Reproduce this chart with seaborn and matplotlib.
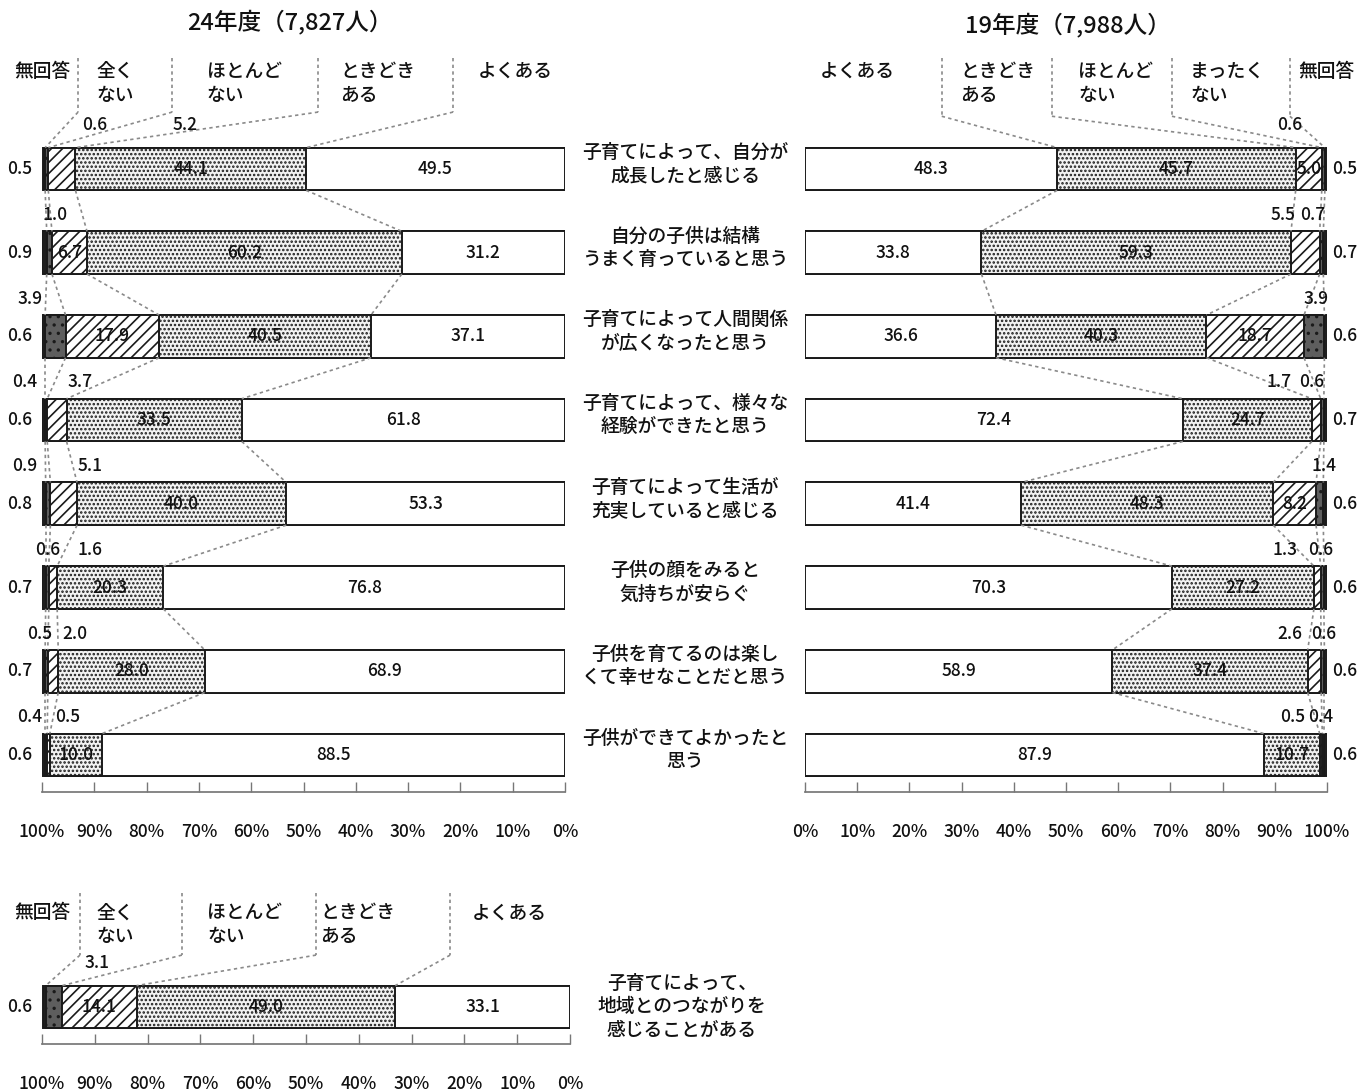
import numpy as np
import pandas as pd
import matplotlib
matplotlib.use("Agg")
import matplotlib.pyplot as plt
import matplotlib.transforms as mtrans
import seaborn as sns

# ---- data ----
items = [
    "子育てによって、自分が\n成長したと感じる",
    "自分の子供は結構\nうまく育っていると思う",
    "子育てによって人間関係\nが広くなったと思う",
    "子育てによって、様々な\n経験ができたと思う",
    "子育てによって生活が\n充実していると感じる",
    "子供の顔をみると\n気持ちが安らぐ",
    "子供を育てるのは楽し\nくて幸せなことだと思う",
    "子供ができてよかったと\n思う",
]
cats_24 = ["よくある", "ときどき\nある", "ほとんど\nない", "全く\nない", "無回答"]
cats_19 = ["よくある", "ときどき\nある", "ほとんど\nない", "まったく\nない", "無回答"]

often_24 = [49.5, 31.2, 37.1, 61.8, 53.3, 76.8, 68.9, 88.5]
sometimes_24 = [44.1, 60.2, 40.5, 33.5, 40.0, 20.3, 28.0, 10.0]
rarely_24 = [5.2, 6.7, 17.9, 3.7, 5.1, 1.6, 2.0, 0.5]
never_24 = [0.6, 1.0, 3.9, 0.4, 0.9, 0.6, 0.5, 0.4]
noans_24 = [0.5, 0.9, 0.6, 0.6, 0.8, 0.7, 0.7, 0.6]

often_19 = [48.3, 33.8, 36.6, 72.4, 41.4, 70.3, 58.9, 87.9]
sometimes_19 = [45.7, 59.3, 40.3, 24.7, 48.3, 27.2, 37.4, 10.7]
rarely_19 = [5.0, 5.5, 18.7, 1.7, 8.2, 1.3, 2.6, 0.5]
never_19 = [0.6, 0.7, 3.9, 0.6, 1.4, 0.6, 0.6, 0.4]
noans_19 = [0.5, 0.7, 0.6, 0.7, 0.6, 0.6, 0.6, 0.6]

item_local = ["子育てによって、\n地域とのつながりを\n感じることがある"]
often_local = [33.1]
sometimes_local = [49.0]
rarely_local = [14.1]
never_local = [3.1]
noans_local = [0.6]

# labels that sit above the bars: (row, category, x position in %)
above_24 = [(0, 3, 89.9), (0, 2, 72.7), (1, 3, 97.5), (2, 3, 102.3),
            (3, 3, 103.3), (3, 2, 92.7), (4, 3, 103.3), (4, 2, 90.8),
            (5, 3, 98.9), (5, 2, 90.8), (6, 3, 100.4), (6, 2, 93.7),
            (7, 3, 102.3), (7, 2, 95.0)]
above_19 = [(0, 3, 92.9), (1, 2, 91.6), (1, 3, 97.3), (2, 3, 97.9),
            (3, 2, 90.8), (3, 3, 97.1), (4, 3, 99.4), (5, 2, 92.0),
            (5, 3, 98.7), (6, 2, 92.9), (6, 3, 99.4), (7, 2, 93.5),
            (7, 3, 98.7)]
above_local = [(0, 3, 89.6)]

# ---- style ----
sns.set_theme(style="white")
plt.rcParams["font.family"] = ["Noto Sans CJK JP", "DejaVu Sans"]
plt.rcParams["font.weight"] = "medium"
plt.rcParams["hatch.linewidth"] = 1.2
plt.rcParams["text.color"] = "#111111"

seg_style = [
    dict(color="white", hatch=""),
    dict(color="#f2f2f2", hatch="...."),
    dict(color="white", hatch="///"),
    dict(color="#5e5e5e", hatch=".."),
    dict(color="#1e1e1e", hatch=""),
]
BAR_W = 0.51
DOT = dict(color="#8a8a8a", lw=1.2, ls=(0, (2, 2)), clip_on=False)
FS = 12.5


def draw_panel(ax, shares, names, above, side_x):
    vals = np.array(shares)
    cum = np.cumsum(vals, axis=0)
    for k in reversed(range(5)):
        df = pd.DataFrame({"v": cum[k], "item": names})
        sns.barplot(data=df, x="v", y="item", orient="y", ax=ax,
                    color=seg_style[k]["color"], hatch=seg_style[k]["hatch"],
                    edgecolor="#1a1a1a", linewidth=1.4, width=BAR_W,
                    saturation=1, errorbar=None)
    n = len(names)
    # dotted connectors between neighbouring rows
    for k in range(4):
        for r in range(n - 1):
            ax.plot([cum[k][r], cum[k][r + 1]],
                    [r + BAR_W / 2, r + 1 - BAR_W / 2], **DOT)
    outside = {(r, c) for r, c, _ in above}
    for r in range(n):
        start = 0
        for c in range(4):
            v = vals[c][r]
            if (r, c) not in outside and c < 3:
                ax.text(start + v / 2, r, f"{v:.1f}", ha="center", va="center",
                        fontsize=FS)
            start += v
        ax.text(side_x, r, f"{vals[4][r]:.1f}", ha="center", va="center",
                fontsize=FS)
    for r, c, x in above:
        dy = 0.53 if r == 0 else 0.45
        ax.text(x, r - dy, f"{vals[c][r]:.1f}", ha="center", va="center",
                fontsize=FS)
    return cum


def header(ax, cats, label_x, label_ha, vline_x, bounds, y_text, y_top, y_bot):
    for lab, x, ha in zip(cats, label_x, label_ha):
        ax.text(x, y_text, lab, ha=ha, va="top", fontsize=13.5, linespacing=1.35)
    for vx, b in zip(vline_x, bounds):
        ax.plot([vx, vx], [y_top, y_bot], **DOT)
        ax.plot([vx, b], [y_bot, -BAR_W / 2], **DOT)


def style_axis(ax, flip, ylim):
    ax.set_xlim((100, 0) if flip else (0, 100))
    ax.set_ylim(*ylim)
    ax.set_xticks(range(0, 101, 10))
    ax.set_xticklabels([f"{t}%" for t in range(0, 101, 10)], fontsize=FS)
    ax.set_yticks([])
    ax.set_xlabel("")
    ax.set_ylabel("")
    for s in ["top", "left", "right"]:
        ax.spines[s].set_visible(False)
    ax.spines["bottom"].set_color("#777777")
    ax.tick_params(axis="x", direction="in", length=7, width=1, color="#777777",
                   pad=22, bottom=True, labelcolor="#111111")


fig = plt.figure(figsize=(13.7, 10.91), dpi=100)
ax_l = fig.add_axes([0.03066, 0.27406, 0.38175, 0.68928])
ax_r = fig.add_axes([0.58759, 0.27406, 0.38102, 0.68928])
ax_b = fig.add_axes([0.03066, 0.04308, 0.38540, 0.15032])

cum_l = draw_panel(ax_l, [often_24, sometimes_24, rarely_24, never_24, noans_24],
                   items, above_24, 104.2)
cum_r = draw_panel(ax_r, [often_19, sometimes_19, rarely_19, never_19, noans_19],
                   items, above_19, 103.4)
cum_b = draw_panel(ax_b, [often_local, sometimes_local, rarely_local, never_local,
                          noans_local], item_local, above_local, 104.2)

style_axis(ax_l, True, (7.443, -1.541))
style_axis(ax_r, False, (7.443, -1.541))
style_axis(ax_b, True, (0.442, -1.517))

header(ax_l, cats_24, [16.6, 43.0, 68.5, 89.5, 100.0],
       ["left", "left", "left", "left", "center"],
       [21.4, 47.2, 75.1, 93.1], [c[0] for c in cum_l[:4]],
       -1.278, -1.33, -0.68)
header(ax_r, cats_19, [2.9, 29.7, 52.3, 73.8, 99.8],
       ["left", "left", "left", "left", "center"],
       [26.2, 47.3, 70.3, 92.9], [c[0] for c in cum_r[:4]],
       -1.278, -1.33, -0.63)
header(ax_b, cats_24, [18.6, 47.3, 68.75, 89.6, 100.0],
       ["left", "left", "left", "left", "center"],
       [22.7, 48.1, 73.5, 92.8], [c[0] for c in cum_b[:4]],
       -1.24, -1.36, -0.62)

# item names in the middle
tr = mtrans.blended_transform_factory(fig.transFigure, ax_l.transData)
for r, name in enumerate(items):
    fig.text(685 / 1370, r - 0.06, name, transform=tr, ha="center", va="center",
             fontsize=13.5, linespacing=1.3)
tr_b = mtrans.blended_transform_factory(fig.transFigure, ax_b.transData)
fig.text(682 / 1370, 0.0, item_local[0], transform=tr_b, ha="center",
         va="center", fontsize=13.5, linespacing=1.3)

fig.text(290 / 1370, 1 - 22 / 1091, "24年度（7,827人）", ha="center", va="center",
         fontsize=17)
fig.text(1068 / 1370, 1 - 25 / 1091, "19年度（7,988人）", ha="center", va="center",
         fontsize=17)

fig.savefig("out.png", dpi=100)
